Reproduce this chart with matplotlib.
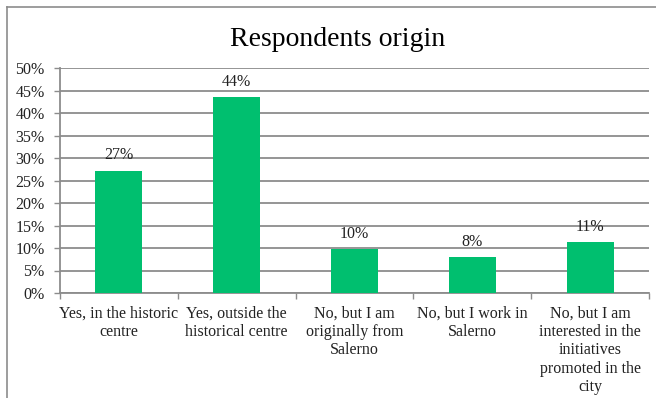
import matplotlib
matplotlib.use("Agg")
import matplotlib.pyplot as plt
from matplotlib.lines import Line2D
from matplotlib.ticker import MultipleLocator, FuncFormatter, FixedLocator

categories = [
    "Yes, in the historic\ncentre",
    "Yes, outside the\nhistorical centre",
    "No, but I am\noriginally from\nSalerno",
    "No, but I work in\nSalerno",
    "No, but I am\ninterested in the\ninitiatives\npromoted in the\ncity",
]
values = [27.2, 43.6, 9.8, 8.0, 11.3]
value_labels = ["27%", "44%", "10%", "8%", "11%"]
title = "Respondents origin"

W, H = 656, 398
fig = plt.figure(figsize=(W / 100, H / 100), dpi=100)
plt.rcParams['font.family'] = ['Liberation Serif', 'DejaVu Serif']

ax = fig.add_axes([60 / W, 1 - 293 / H, (649 - 60) / W, (293 - 68) / H])
x = list(range(len(categories)))
ax.bar(x, values, width=0.4, color='#00BF6F', zorder=3)
ax.set_xlim(-0.5, len(categories) - 0.5)
ax.set_ylim(0, 50)
ax.yaxis.set_major_locator(MultipleLocator(5))
ax.yaxis.set_major_formatter(FuncFormatter(lambda v, p: f"{int(round(v))}%"))
ax.grid(axis='y', color='#8c8c8c', linewidth=1.3, zorder=0)
ax.set_axisbelow(True)

# category labels centered, ticks at boundaries
ax.set_xticks(x)
ax.set_xticklabels(categories, fontsize=11.5, linespacing=1.2, color='#222222')
ax.tick_params(axis='x', which='major', length=0, pad=9)
ax.xaxis.set_minor_locator(FixedLocator([i - 0.5 for i in range(len(categories) + 1)]))
ax.tick_params(axis='x', which='minor', length=4, width=1, color='#8c8c8c', direction='out')
ax.tick_params(axis='y', length=4, width=1, color='#8c8c8c', labelsize=11.5, pad=7,
               labelcolor='#222222')

for s in ['top', 'right']:
    ax.spines[s].set_visible(False)
for s in ['left', 'bottom']:
    ax.spines[s].set_color('#8c8c8c')
    ax.spines[s].set_linewidth(1.3)

for xi, v, lab in zip(x, values, value_labels):
    ax.text(xi, v + 1.6, lab, ha='center', va='bottom', fontsize=11.5, color='#222222')

fig.text(338 / W, 1 - 40 / H, title, ha='center', va='center', fontsize=20, color='black')

# outer chart border (left and top visible)
fig.add_artist(Line2D([7 / W, 7 / W], [1 - 7 / H, 0], transform=fig.transFigure, color='#8c8c8c', linewidth=1.2))
fig.add_artist(Line2D([7 / W, 1], [1 - 7 / H, 1 - 7 / H], transform=fig.transFigure, color='#8c8c8c', linewidth=1.2))

fig.savefig("out.png", dpi=100, facecolor='white')
